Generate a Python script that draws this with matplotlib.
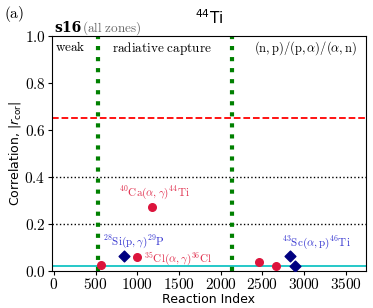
import numpy as np
import matplotlib
matplotlib.use('Agg')
import matplotlib.pyplot as plt
from matplotlib.ticker import FuncFormatter

plt.rcParams['mathtext.fontset'] = 'cm'

# data
red_x = [560, 1000, 1170, 2460, 2660]
red_y = [0.023, 0.060, 0.271, 0.037, 0.020]
blue_x = [842, 2830, 2894]
blue_y = [0.061, 0.063, 0.021]
region_edges = [525, 2135]
grid_levels = [0.2, 0.4]
threshold = 0.65
floor_level = 0.019

labels = [r'$^{40}\mathrm{Ca}(\alpha,\gamma)^{44}\mathrm{Ti}$',
          r'$^{28}\mathrm{Si}(\mathrm{p},\gamma)^{29}\mathrm{P}$',
          r'$^{35}\mathrm{Cl}(\alpha,\gamma)^{36}\mathrm{Cl}$',
          r'$^{43}\mathrm{Sc}(\alpha,\mathrm{p})^{46}\mathrm{Ti}$']
label_x = [1200, 583, 1078, 2739]
label_y = [0.334, 0.126, 0.050, 0.121]
label_col = ['#e0304e', '#3434d0', '#e0304e', '#3434d0']
label_ha = ['center', 'left', 'left', 'left']

fig = plt.figure(figsize=(3.73, 3.08), dpi=100)
ax = fig.add_axes([0.139, 0.121, 0.842, 0.762])

for lv in grid_levels:
    ax.axhline(lv, color='black', ls=':', lw=1)
ax.axhline(threshold, color='red', ls='--', lw=1.3)
ax.axhline(floor_level, color='c', ls='-', lw=1.2)
for e in region_edges:
    ax.axvline(e, color='green', ls=':', lw=3)

ax.scatter(red_x, red_y, s=30, color='crimson', marker='o', zorder=5)
ax.scatter(blue_x, blue_y, s=30, color='navy', marker='D', zorder=5)

for t, x, y, c, ha in zip(labels, label_x, label_y, label_col, label_ha):
    ax.text(x, y, t, color=c, ha=ha, va='center', fontsize=8)

ax.text(0.01, 0.985, r'$\mathrm{weak}$', transform=ax.transAxes, fontsize=9.5, va='top')
ax.text(0.19, 0.985, r'$\mathrm{radiative\ capture}$', transform=ax.transAxes, fontsize=9.5, va='top')
ax.text(0.645, 0.985, r'$\mathrm{(n,p)/(p,}\alpha\mathrm{)/(}\alpha\mathrm{,n)}$',
        transform=ax.transAxes, fontsize=9, va='top')

ax.set_xlim(-25, 3740)
ax.set_ylim(0, 1)
ax.set_xticks(np.arange(0, 3501, 500))
ax.set_yticks(np.arange(0, 1.01, 0.2))
ax.xaxis.set_major_formatter(FuncFormatter(lambda v, p: r'$%d$' % v))
ax.yaxis.set_major_formatter(FuncFormatter(lambda v, p: r'$%.1f$' % v))
ax.tick_params(labelsize=11, length=3, pad=1.5)
ax.set_xlabel('Reaction Index', fontsize=9, labelpad=1)
ax.set_ylabel(r'Correlation, $|r_{\mathrm{cor}}|$', fontsize=9, labelpad=1,
              math_fontfamily='dejavusans')
ax.set_title(r'$^{44}$Ti', fontsize=11, pad=9, math_fontfamily='dejavusans')

fig.text(0.012, 0.955, r'$\mathrm{(a)}$', fontsize=11, va='center')
fig.text(0.145, 0.91, 's16', fontsize=10, va='center', family='DejaVu Serif', weight='bold')
fig.text(0.22, 0.908, r'$\mathrm{(all\ zones)}$', fontsize=9.5, va='center', color='dimgray')

fig.savefig('out.png', dpi=100)
